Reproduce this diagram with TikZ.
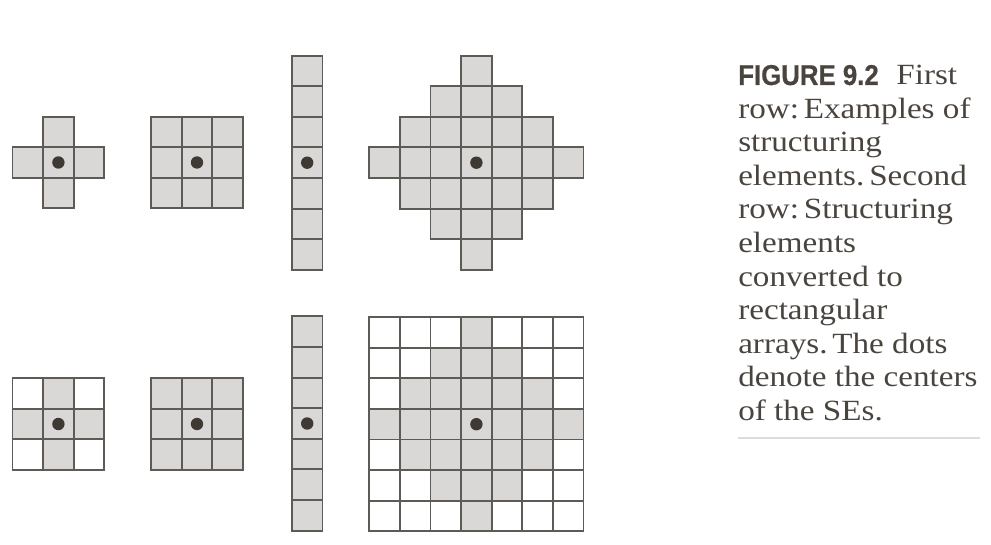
\documentclass[tikz,border=0pt]{standalone}
\usepackage{fontspec}
\newfontfamily\figsans[FakeStretch=0.9,FakeBold=0.6]{Liberation Sans Bold}
\newfontfamily\capserif[FakeStretch=1.13]{Liberation Serif}
\definecolor{lineg}{HTML}{5E5A55}
\definecolor{cellg}{HTML}{D9D8D6}
\definecolor{dotc}{HTML}{3F3934}
\definecolor{txtc}{HTML}{4A443F}
\definecolor{ruleg}{HTML}{DCDCDC}
\def\S{30.6}
\newcommand\cellsq[5]{%
  \filldraw[cellbox,fill=#5] ({#1+(#3-0.5)*\S},{#2+(#4-0.5)*\S}) rectangle ({#1+(#3+0.5)*\S},{#2+(#4+0.5)*\S});}
\newcommand\centerdot[2]{\fill[dotc] (#1,#2) circle (6.2);}
\tikzset{
  cellbox/.style={draw=lineg,line width=1.4pt},
  captxt/.style={anchor=base west,inner sep=0pt,text=txtc,font=\capserif\fontsize{22}{25}\selectfont}
}
\begin{document}
\begin{tikzpicture}[x=0.75pt,y=-0.75pt]
\useasboundingbox (0,0) rectangle (991,545);
% ---- top row ----
% cross
\foreach \i/\j in {0/-1,-1/0,0/0,1/0,0/1} {\cellsq{58.4}{162.5}{\i}{\j}{cellg}}
\centerdot{58.4}{162.5}
% 3x3 square
\foreach \i in {-1,0,1} \foreach \j in {-1,0,1} {\cellsq{197}{162.5}{\i}{\j}{cellg}}
\centerdot{197}{162.5}
% vertical line
\foreach \j in {-3,...,3} {\cellsq{307.2}{162.7}{0}{\j}{cellg}}
\centerdot{307.2}{162.7}
% diamond
\foreach \i in {-3,...,3} \foreach \j in {-3,...,3} {%
  \pgfmathtruncatemacro\dd{abs(\i)+abs(\j)}%
  \ifnum\dd<4 \cellsq{476.4}{162.7}{\i}{\j}{cellg}\fi}
\centerdot{476.4}{162.7}
% ---- bottom row ----
% cross in 3x3
\foreach \i in {-1,0,1} \foreach \j in {-1,0,1} {%
  \pgfmathtruncatemacro\dd{abs(\i)+abs(\j)}%
  \ifnum\dd<2 \cellsq{58.4}{424}{\i}{\j}{cellg}\else\cellsq{58.4}{424}{\i}{\j}{white}\fi}
\centerdot{58.4}{424}
% 3x3 square
\foreach \i in {-1,0,1} \foreach \j in {-1,0,1} {\cellsq{197}{424}{\i}{\j}{cellg}}
\centerdot{197}{424}
% vertical line
\foreach \j in {-3,...,3} {\cellsq{307.2}{423.5}{0}{\j}{cellg}}
\centerdot{307.2}{423.5}
% diamond in 7x7
\foreach \i in {-3,...,3} \foreach \j in {-3,...,3} {%
  \pgfmathtruncatemacro\dd{abs(\i)+abs(\j)}%
  \ifnum\dd<4 \cellsq{476.4}{424.2}{\i}{\j}{cellg}\else\cellsq{476.4}{424.2}{\i}{\j}{white}\fi}
\centerdot{476.4}{424.2}
% ---- caption ----
\node[captxt] (c1) at (738,85) {{\figsans\fontsize{21.5}{25}\selectfont FIGURE 9.2}\hspace{0.6em}First};
\node[captxt] (c2) at (738,118.5) {row:\,Examples of};
\node[captxt] (c3) at (738,152) {structuring};
\node[captxt] (c4) at (738,185.5) {elements.\,Second};
\node[captxt] (c5) at (738,219) {row:\,Structuring};
\node[captxt] (c6) at (738,252.5) {elements};
\node[captxt] (c7) at (738,286) {converted to};
\node[captxt] (c8) at (738,319.5) {rectangular};
\node[captxt] (c9) at (738,353) {arrays.\,The dots};
\node[captxt] (c10) at (738,386.5) {denote the centers};
\node[captxt] (c11) at (738,420) {of the SEs.};
\coordinate (r1) at (738,438);
\coordinate (r2) at (980,438);
\draw[ruleg,line width=1.1pt] (r1) -- (r2);
\end{tikzpicture}
\end{document}
